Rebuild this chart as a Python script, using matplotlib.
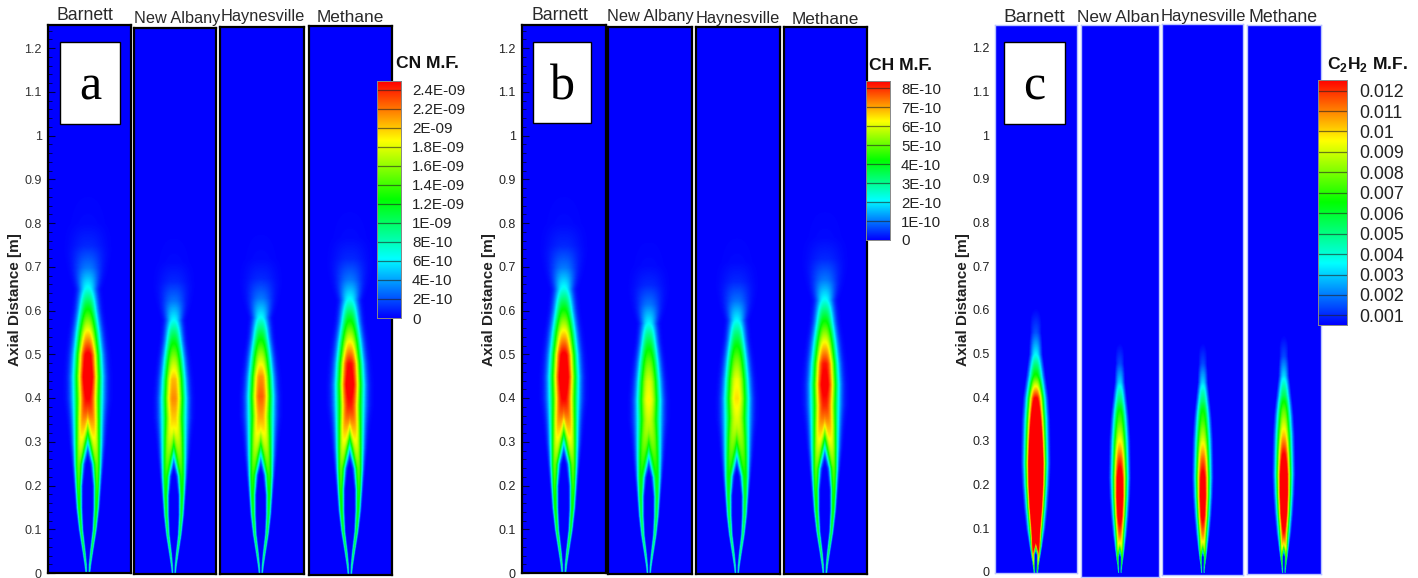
import numpy as np
import matplotlib
matplotlib.use("Agg")
import matplotlib.pyplot as plt
from matplotlib.colors import LinearSegmentedColormap, Normalize
from matplotlib.patches import Rectangle

plt.rcParams['font.family'] = ['Liberation Sans', 'DejaVu Sans']
plt.rcParams['mathtext.fontset'] = 'custom'
plt.rcParams['mathtext.bf'] = 'Liberation Sans:bold'
plt.rcParams['mathtext.rm'] = 'Liberation Sans'

W, H = 1418, 578

# ---------- data ----------
fuels = ['Barnett', 'New Albany', 'Haynesville', 'Methane']

cn_ticks = [0, 2e-10, 4e-10, 6e-10, 8e-10, 1e-9, 1.2e-9, 1.4e-9, 1.6e-9, 1.8e-9, 2e-9, 2.2e-9, 2.4e-9]
cn_labels = ['0', '2E-10', '4E-10', '6E-10', '8E-10', '1E-09', '1.2E-09', '1.4E-09', '1.6E-09',
             '1.8E-09', '2E-09', '2.2E-09', '2.4E-09']
ch_ticks = [0, 1e-10, 2e-10, 3e-10, 4e-10, 5e-10, 6e-10, 7e-10, 8e-10]
ch_labels = ['0', '1E-10', '2E-10', '3E-10', '4E-10', '5E-10', '6E-10', '7E-10', '8E-10']
c2h2_ticks = [0.001, 0.002, 0.003, 0.004, 0.005, 0.006, 0.007, 0.008, 0.009, 0.01, 0.011, 0.012]
c2h2_labels = ['0.001', '0.002', '0.003', '0.004', '0.005', '0.006', '0.007', '0.008', '0.009',
               '0.01', '0.011', '0.012']
axial_ticks = [0, .1, .2, .3, .4, .5, .6, .7, .8, .9, 1, 1.1, 1.2]
axial_labels = ['0', '0.1', '0.2', '0.3', '0.4', '0.5', '0.6', '0.7', '0.8', '0.9', '1', '1.1', '1.2']

# flame tables: axial station, outer and inner edge of the
# reaction zone (in reference pixels from the axis) and peak level as a share of the scale.
# A negative inner edge means the two wings have started to merge.
wing_z = [0, .02, .05, .1, .15, .2, .25, .3, .35, .4, .45, .5, .55, .6, .65, .7, .75, .8, .9]
wing_outer = [2.5, 3.5, 5.5, 9, 11.5, 13, 14.5, 15.5, 16, 16.5, 16.5, 15.5, 14, 12, 11, 17, 22, 24, 24]
wing_inner = [.5, .8, 2, 4.5, 5.5, 5.5, 3.5, -2, -8, -16.5, -16.5, -15.5, -14, -12, -11, -17, -22, -24, -24]
wing_level = [.3, .37, .42, .45, .5, .55, .6, .72, .85, 1.0, 1.08, 1.02, .78, .52, .27, .12, .04, .01, 0]

c2h2_z = [0, .02, .04, .06, .1, .15, .2, .25, .3, .35, .4, .45, .5, .55, .6, .65, .75]
c2h2_outer = [2.5, 3.5, 5, 6.5, 9, 11, 12.5, 13.5, 13.5, 13.5, 12.5, 10.5, 8.5, 9, 13, 16, 18]
c2h2_inner = [.5, .8, .8, -2, -9, -11, -12.5, -13.5, -13.5, -13.5, -12.5, -10.5, -8.5, -9, -13, -16, -18]
c2h2_level = [.5, .7, .85, 1.1, 1.5, 1.8, 1.9, 1.8, 1.55, 1.25, 1.0, .55, .28, .12, .05, .01, 0]

# per-fuel peak strength, flame length and flame width relative to Barnett
cn_peak = [1.0, .80, .84, .97]
cn_len = [1.0, .89, .90, .96]
cn_wid = [1.0, .88, .90, .97]
ch_peak = [1.0, .70, .72, .96]
ch_len = [1.0, .88, .89, .96]
ch_wid = [1.0, .88, .90, .97]
c2h2_peak = [1.0, .60, .58, .65]
c2h2_len = [1.0, .87, .87, .90]
c2h2_wid = [1.0, .80, .78, .82]
edge_power = 2.4

# ---------- layout in reference pixels ----------
panels = [
    dict(box=[(48, 131, 25, 573), (134, 216, 28, 574), (220, 304, 27, 574), (309, 392, 26, 575)],
         centers=[88, 174, 261, 350], y0=573, scale=437.5, edge='black', tick=5,
         tick_color='#333333', letter='a', letter_box=(60, 120, 42, 124),
         bar=(377, 401, 81, 318), bar_lim=(0, 2.49e-9), ticks=cn_ticks, labels=cn_labels,
         bar_fs=10.9, bar_pad=8, title='CN M.F.', title_xy=(396, 64), k=1.75,
         shape=(wing_z, wing_outer, wing_inner, wing_level), peak=cn_peak, length=cn_len, wid=cn_wid,
         ylab_x=15,
         names=[('Barnett', 85, 16, 12.7), ('New Albany', 177, 18, 11.7),
                ('Haynesville', 263, 17, 11.8), ('Methane', 350, 17, 12.4)]),
    dict(box=[(522, 606, 25, 573), (608, 692, 27, 574), (696, 780, 27, 574), (784, 867, 27, 574)],
         centers=[564, 649, 737, 825], y0=573, scale=437.5, edge='black', tick=5,
         tick_color='#222222', letter='b', letter_box=(533, 591, 42, 123),
         bar=(866, 890, 81, 240), bar_lim=(0, 8.37e-10), ticks=ch_ticks, labels=ch_labels,
         bar_fs=10.8, bar_pad=8, title='CH M.F.', title_xy=(869, 65), k=1.75,
         shape=(wing_z, wing_outer, wing_inner, wing_level), peak=ch_peak, length=ch_len, wid=ch_wid,
         ylab_x=489,
         names=[('Barnett', 560, 16, 12.7), ('New Albany', 650, 16, 11.8),
                ('Haynesville', 738, 18, 11.8), ('Methane', 825, 19, 12.4)]),
    dict(box=[(995, 1077, 25, 573), (1081, 1159, 25, 577), (1162, 1243, 24, 575), (1247, 1321, 25, 574)],
         centers=[1036, 1120, 1203, 1284], y0=572, scale=436.67, edge='#b9c4ff', tick=0,
         tick_color='#222222', letter='c', letter_box=(1004, 1065, 42, 124),
         bar=(1318, 1347, 80, 325), bar_lim=(.00053, .01252), ticks=c2h2_ticks, labels=c2h2_labels,
         bar_fs=12.8, bar_pad=8.5, title=r'C$_{\mathbf{2}}$H$_{\mathbf{2}}$ M.F.', title_xy=(1327, 65), k=2.0,
         shape=(c2h2_z, c2h2_outer, c2h2_inner, c2h2_level), peak=c2h2_peak, length=c2h2_len, wid=c2h2_wid,
         ylab_x=963,
         names=[('Barnett', 1034, 17, 13.8), ('New Alban', 1118, 18, 12.4),
                ('Haynesville', 1203, 17, 12.0), ('Methane', 1283, 17, 12.8)]),
]

cmap = LinearSegmentedColormap.from_list(
    'tecplot', [(0, '#0000ff'), (.25, '#00ffff'), (.5, '#00ff00'), (.75, '#ffff00'), (1, '#ff0000')])

fig = plt.figure(figsize=(W / 100, H / 100), dpi=100, facecolor='white')


def px_axes(x0, x1, ytop, ybot, **kw):
    return fig.add_axes([x0 / W, 1 - ybot / H, (x1 - x0) / W, (ybot - ytop) / H], **kw)


def field(shape, k, peak, length, wid, xs, zs, vmax):
    z_tab, outer_tab, inner_tab, a_tab = shape
    zeff = zs / length
    outer = np.interp(zeff, z_tab, outer_tab) * wid
    inner = np.interp(zeff, z_tab, inner_tab) * wid
    a = np.interp(zeff, z_tab, a_tab)
    a = a * (1 + (peak - 1) * np.minimum(a, 1))
    r = (outer + inner) / 2
    s = (outer - inner) / (2 * k)
    X, Z = np.meshgrid(xs, np.arange(len(zs)))
    d = np.abs(np.abs(X) - r[Z]) / s[Z]
    return a[Z] * np.exp(-.5 * d ** edge_power) * vmax


for p in panels:
    norm = Normalize(*p['bar_lim'])
    for i, (x0, x1, yt, yb) in enumerate(p['box']):
        ax = px_axes(x0, x1, yt, yb)
        c = p['centers'][i]
        ylo, yhi = (p['y0'] - yb) / p['scale'], (p['y0'] - yt) / p['scale']
        xs = np.linspace(x0 - c, x1 - c, 2 * (x1 - x0) + 1)
        zs = np.linspace(max(ylo, 0), yhi, 1200)
        F = field(p['shape'], p['k'], p['peak'][i], p['length'][i], p['wid'][i], xs, zs, p['bar_lim'][1])
        ax.set_facecolor('#0000ff')
        ax.pcolormesh(xs, zs, F, cmap=cmap, norm=norm, shading='gouraud', rasterized=True)
        ax.set_xlim(x0 - c, x1 - c)
        ax.set_ylim(ylo, yhi)
        ax.set_xticks([])
        for sp in ax.spines.values():
            sp.set_color(p['edge'])
            sp.set_linewidth(1.6 if p['edge'] == 'black' else 1.0)
        if i == 0:
            ax.set_yticks(axial_ticks, axial_labels)
            ax.set_yticks(np.arange(0, 1.25, .02), minor=True)
            ax.tick_params(axis='y', which='major', direction='in', length=p['tick'], width=.8,
                           color='#000044', labelsize=9, labelcolor=p['tick_color'],
                           pad=4.4 if p['tick'] else 4)
            ax.tick_params(axis='y', which='minor', direction='in',
                           length=p['tick'] * .6, width=.6, color='#000044')
        else:
            ax.set_yticks([])
        tx, ty = p['names'][i][1:3]
        fig.text(tx / W, 1 - ty / H, p['names'][i][0], ha='center', va='center',
                 fontsize=p['names'][i][3], color='#2a2a2a')

    # letter box
    lx0, lx1, ly0, ly1 = p['letter_box']
    fig.add_artist(Rectangle((lx0 / W, 1 - ly1 / H), (lx1 - lx0) / W, (ly1 - ly0) / H,
                             transform=fig.transFigure, fc='white', ec='black', lw=1.0, zorder=5))
    fig.text((lx0 + lx1) / 2 / W, 1 - 87 / H, p['letter'], ha='center', va='center',
             family='Liberation Serif', fontsize=36, color='black', zorder=6)

    # colour bar
    bx0, bx1, byt, byb = p['bar']
    cax = px_axes(bx0, bx1, byt, byb, zorder=3)
    lo, hi = p['bar_lim']
    grad = np.linspace(lo, hi, 256).reshape(-1, 1)
    cax.imshow(grad, extent=(0, 1, lo, hi), origin='lower', aspect='auto', cmap=cmap, norm=norm)
    for t in p['ticks']:
        if t > lo:
            cax.axhline(t, color='#222222', alpha=.6, lw=.9)
    cax.set_xticks([])
    cax.yaxis.tick_right()
    cax.set_yticks(p['ticks'], p['labels'])
    cax.tick_params(axis='y', length=0, labelsize=p['bar_fs'], pad=p['bar_pad'], labelcolor='#222222')
    for sp in cax.spines.values():
        sp.set_color('#888888')
        sp.set_linewidth(.7)
    tx, ty = p['title_xy']
    fig.text(tx / W, 1 - ty / H, p['title'], ha='left', va='center', fontsize=12.6, fontweight='bold',
             color='#111111', zorder=6)
    fig.text(p['ylab_x'] / W, 1 - 300 / H, 'Axial Distance [m]', rotation=90, ha='center', va='center',
             fontsize=11, fontweight='bold', color='#222222')

fig.savefig('out.png', dpi=100, facecolor='white')
